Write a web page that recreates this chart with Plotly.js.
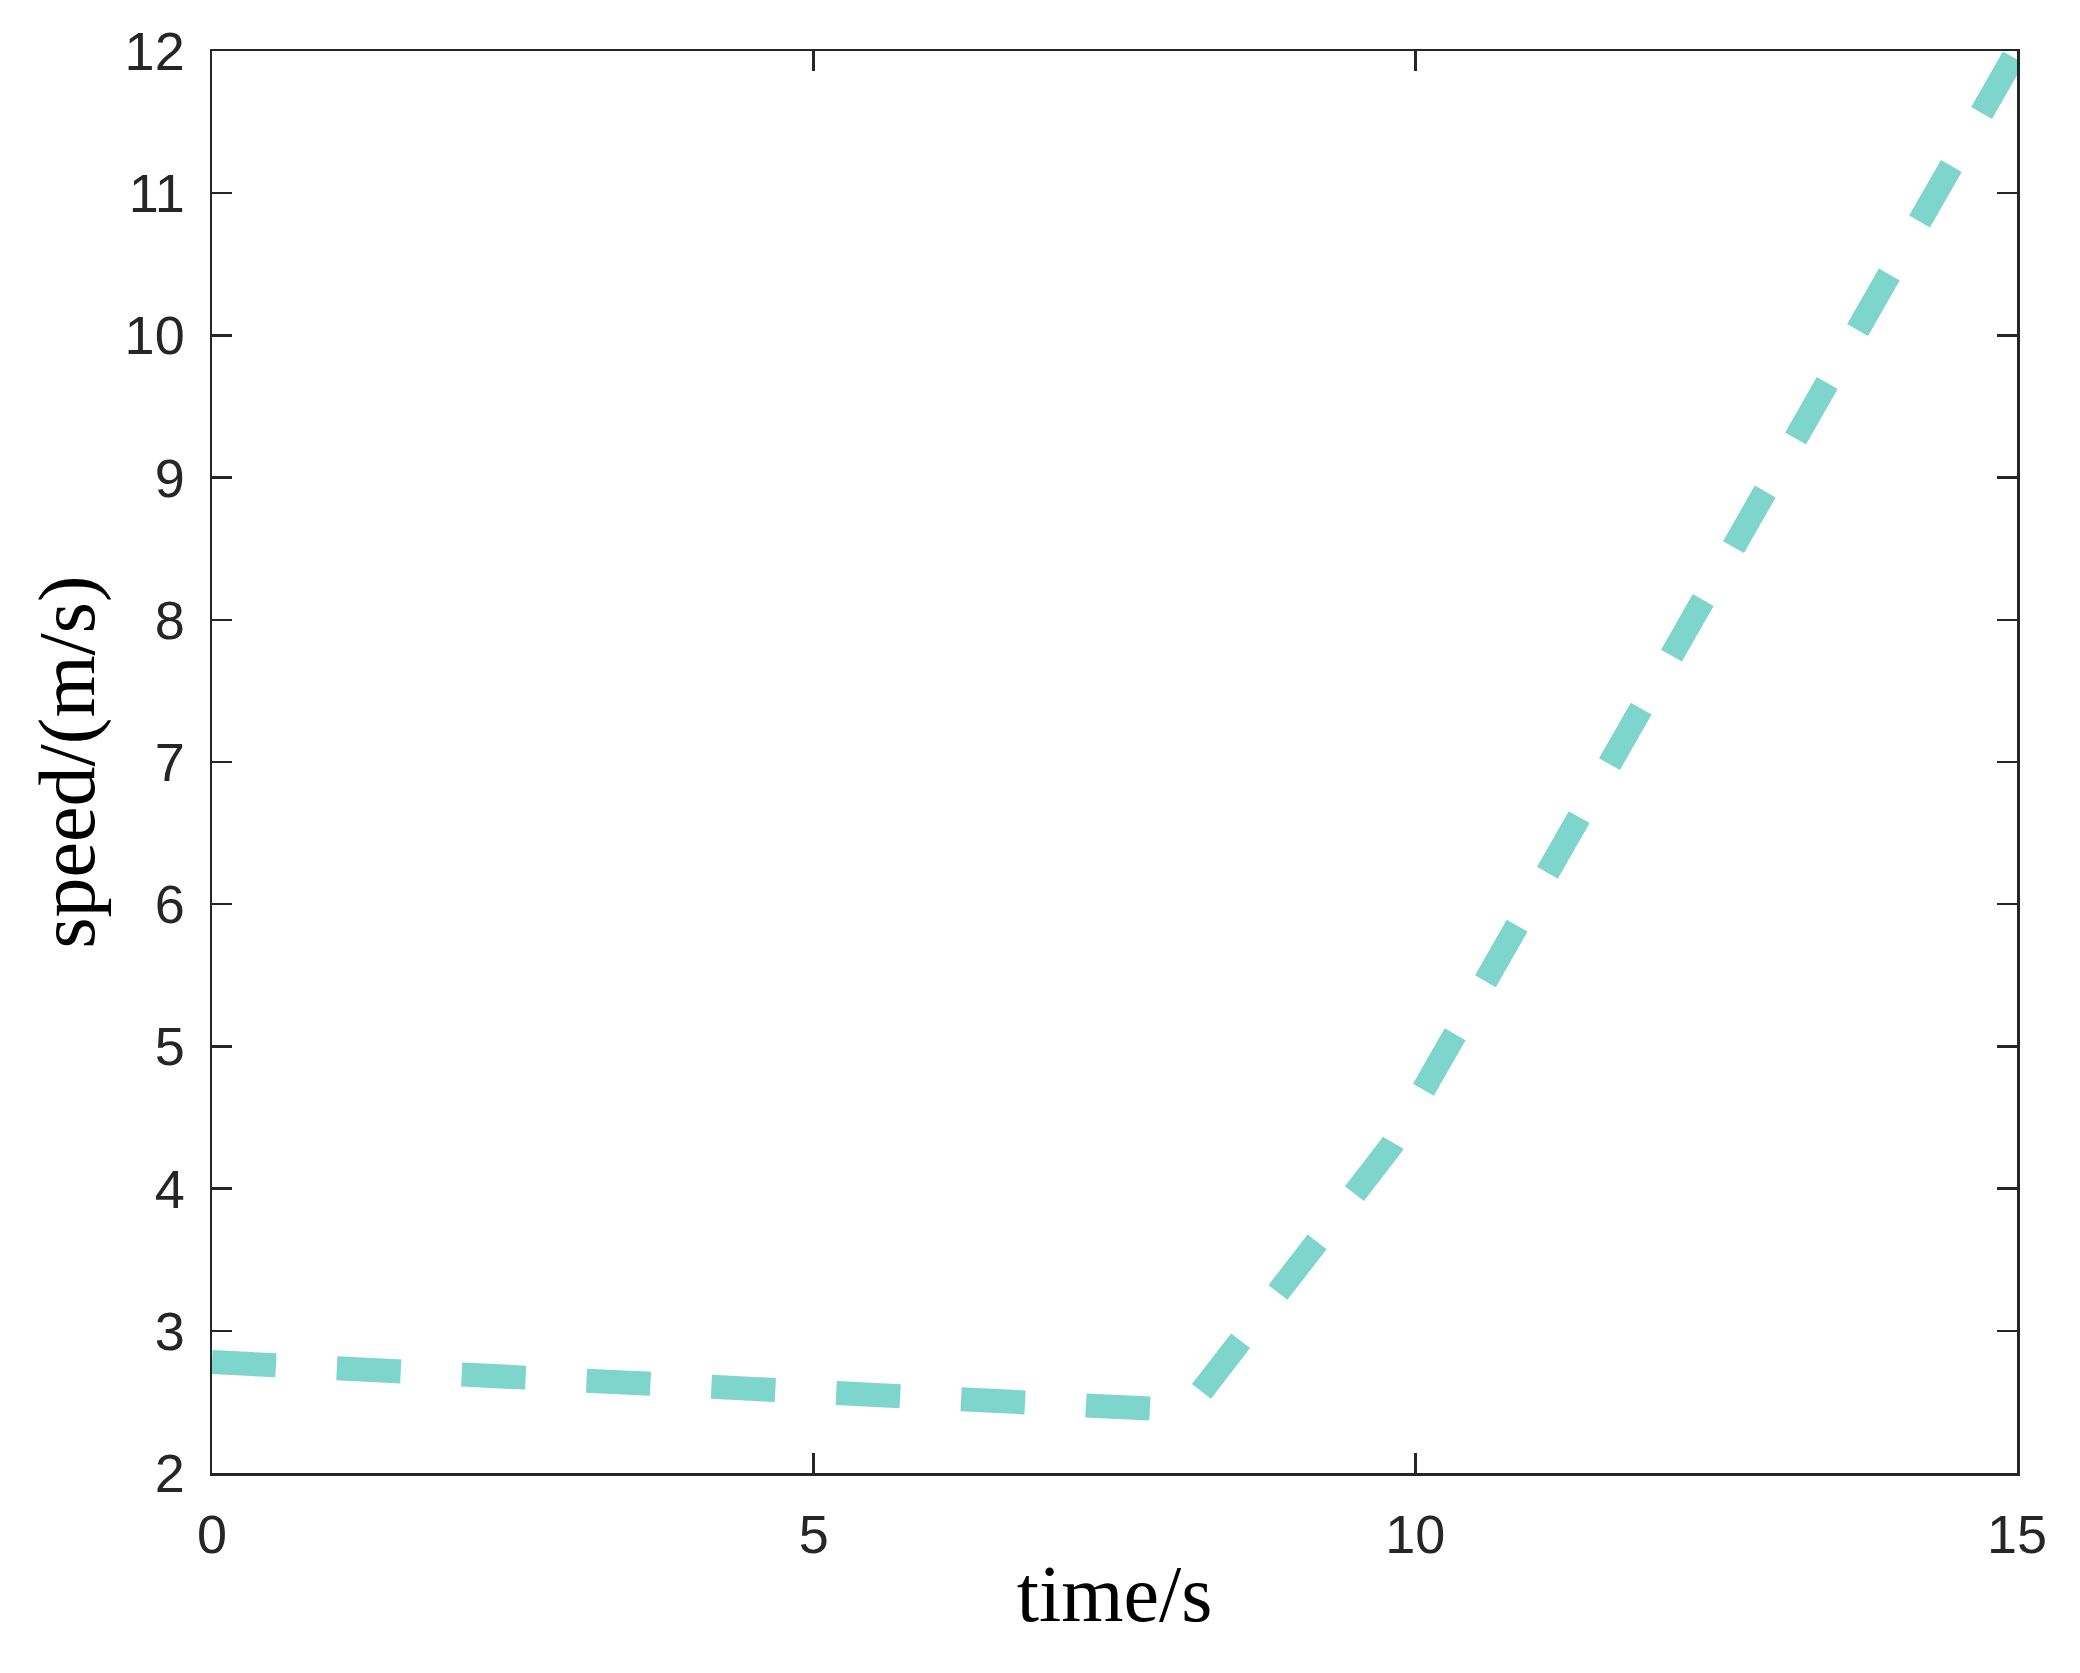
<!DOCTYPE html>
<html>
<head>
<meta charset="utf-8">
<script src="https://cdn.plot.ly/plotly-3.0.1.min.js"></script>
<style>
  html, body { margin: 0; padding: 0; background: #fff; }
  #chart { width: 2080px; height: 1673px; }
</style>
</head>
<body>
<div id="chart"></div>
<script>
// values
const timeS = [0, 8.1, 9.8, 15];
const speed = [2.78, 2.44, 4.3, 12];

const xTicks = [0, 5, 10, 15];
const yTicks = [2, 3, 4, 5, 6, 7, 8, 9, 10, 11, 12];

const AXIS_COLOR = '#262626';
const LINE_COLOR = '#7dd5cc';

const axisBase = {
  showgrid: false,
  zeroline: false,
  showline: true,
  linecolor: AXIS_COLOR,
  linewidth: 2.5,
  mirror: 'ticks',
  ticks: 'inside',
  ticklen: 20,
  tickwidth: 2.5,
  tickcolor: AXIS_COLOR,
  tickfont: { family: 'Liberation Sans, Arial, sans-serif', size: 54, color: AXIS_COLOR },
};

const traces = [{
  x: timeS,
  y: speed,
  type: 'scatter',
  mode: 'lines',
  line: { color: LINE_COLOR, width: 24, dash: '64px,61px' },
  hoverinfo: 'skip',
}];

const layout = {
  width: 2080,
  height: 1673,
  margin: { l: 212, r: 63, t: 51, b: 200 },
  paper_bgcolor: '#fff',
  plot_bgcolor: '#fff',
  showlegend: false,
  xaxis: {
    ...axisBase,
    range: [0, 15],
    tickvals: xTicks,
    ticktext: xTicks.map(String),
    ticklabelstandoff: 13,
    title: {
      text: 'time/s',
      font: { family: 'Liberation Serif, Times New Roman, serif', size: 80, color: '#000' },
      standoff: 2,
    },
  },
  yaxis: {
    ...axisBase,
    range: [2, 12],
    tickvals: yTicks,
    ticktext: yTicks.map(String),
    ticklabelstandoff: 14,
    title: {
      text: 'speed/(m/s)',
      font: { family: 'Liberation Serif, Times New Roman, serif', size: 80, color: '#000' },
      standoff: 4,
    },
  },
};

Plotly.newPlot('chart', traces, layout, { displayModeBar: false, staticPlot: true });
</script>
</body>
</html>
